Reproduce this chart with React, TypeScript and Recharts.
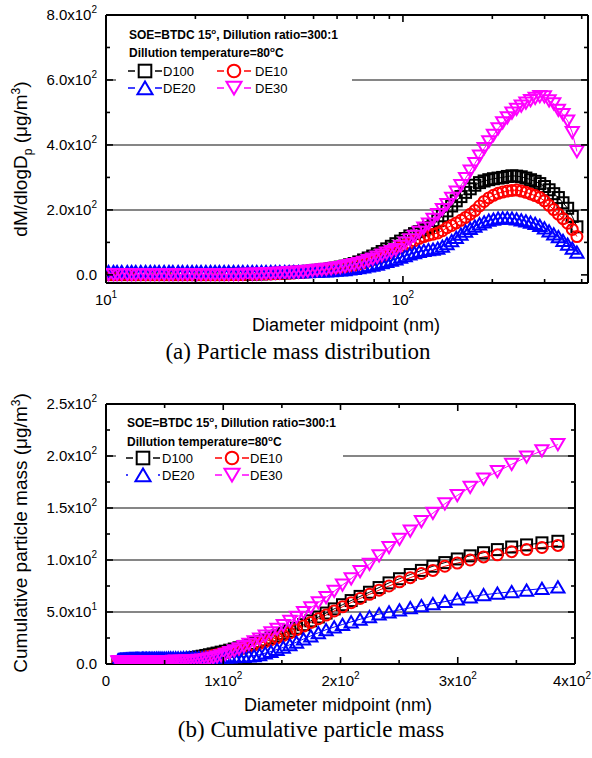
import React from "react";
import { LineChart, Line, XAxis, YAxis, ReferenceLine } from "recharts";

// SMPS channel midpoints (nm)
const diameters = [
  10.2, 10.6, 10.9, 11.3, 11.8, 12.2, 12.6, 13.1, 13.6, 14.1,
  14.6, 15.1, 15.7, 16.3, 16.8, 17.5, 18.1, 18.8, 19.5, 20.2,
  20.9, 21.7, 22.5, 23.3, 24.1, 25.0, 25.9, 26.9, 27.9, 28.9,
  30.0, 31.1, 32.2, 33.4, 34.6, 35.9, 37.2, 38.5, 40.0, 41.4,
  42.9, 44.5, 46.1, 47.8, 49.6, 51.4, 53.3, 55.2, 57.3, 59.4,
  61.5, 63.8, 66.1, 68.5, 71.0, 73.7, 76.4, 79.1, 82.0, 85.1,
  88.2, 91.4, 94.7, 98.2, 101.8, 105.5, 109.4, 113.4, 117.6, 121.9,
  126.3, 131.0, 135.8, 140.7, 145.9, 151.2, 156.8, 162.5, 168.5, 174.7,
  181.1, 187.7, 194.6, 201.7, 209.1, 216.7, 224.7, 232.9, 241.4, 250.3,
  259.5, 269.0, 278.8, 289.0, 299.6, 310.6, 322.0, 333.8, 346.0, 358.7,
  371.8, 385.4,
];

// (a) dM/dlogDp, ug/m3
const massD100 = [
  1, 1, 1, 1, 1, 1, 1, 1, 1, 1,
  1, 1, 1, 1, 1, 1, 1, 1, 1, 1,
  1, 1, 1, 1, 1, 1, 2, 2, 2, 2,
  2, 3, 3, 3, 4, 4, 5, 5, 6, 7,
  8, 9, 10, 11, 12, 14, 15, 17, 19, 21,
  24, 27, 31, 35, 40, 46, 52, 58, 65, 72,
  80, 88, 96, 104, 112, 120, 127, 133, 139, 146,
  153, 167, 182, 197, 212, 228, 241, 254, 265, 276,
  284, 289, 293, 296, 298, 300, 303, 305, 304, 302,
  298, 293, 288, 281, 272, 262, 250, 238, 222, 205,
  180, 148,
];
const massDE10 = [
  1, 1, 1, 1, 1, 1, 1, 1, 1, 1,
  1, 1, 1, 1, 1, 1, 1, 1, 1, 1,
  1, 1, 1, 1, 1, 1, 1, 1, 1, 1,
  2, 2, 2, 3, 3, 3, 4, 4, 5, 5,
  6, 7, 8, 9, 10, 11, 13, 14, 16, 18,
  20, 23, 26, 29, 33, 37, 42, 47, 52, 58,
  64, 70, 77, 84, 91, 98, 105, 112, 118, 122,
  125, 129, 136, 145, 152, 160, 168, 177, 187, 198,
  212, 226, 237, 245, 251, 255, 258, 260, 261, 258,
  254, 249, 244, 238, 228, 214, 201, 187, 173, 159,
  140, 118,
];
const massDE20 = [
  10, 10, 10, 10, 10, 10, 10, 10, 10, 10,
  10, 10, 10, 10, 10, 10, 10, 10, 10, 10,
  10, 10, 10, 10, 10, 10, 10, 10, 10, 10,
  10, 10, 10, 10, 10, 10, 10, 10, 10, 10,
  10, 10, 10, 10, 11, 11, 12, 12, 13, 14,
  15, 16, 18, 20, 22, 24, 27, 30, 33, 37,
  41, 45, 49, 54, 59, 64, 68, 72, 75, 77,
  79, 82, 88, 96, 105, 115, 125, 134, 143, 150,
  157, 163, 168, 171, 174, 175, 175, 174, 172, 169,
  166, 162, 158, 152, 144, 135, 126, 117, 106, 94,
  82, 70,
];
const massDE30 = [
  1, 1, 1, 1, 1, 1, 1, 1, 1, 1,
  1, 1, 1, 1, 1, 1, 1, 1, 1, 1,
  1, 1, 1, 1, 1, 1, 1, 1, 1, 2,
  2, 2, 3, 3, 4, 4, 5, 6, 6, 7,
  8, 9, 10, 11, 13, 14, 16, 17, 19, 21,
  23, 26, 29, 32, 35, 39, 44, 49, 55, 61,
  67, 72, 78, 88, 98, 108, 119, 131, 144, 157,
  171, 186, 201, 217, 236, 255, 275, 297, 320, 343,
  366, 389, 410, 430, 450, 468, 484, 498, 510, 520,
  529, 537, 544, 549, 548, 536, 527, 507, 494, 474,
  438, 380,
];

// (b) cumulative mass, ug/m3
const cumD100 = [
  1.5, 1.5, 1.5, 1.5, 1.5, 1.5, 1.5, 1.5, 1.5, 1.5,
  1.5, 1.5, 1.5, 1.5, 1.5, 1.5, 1.5, 1.5, 1.5, 1.5,
  1.5, 1.5, 1.5, 1.5, 1.5, 1.5, 1.5, 1.5, 1.5, 1.5,
  1.6, 1.6, 1.6, 1.6, 1.7, 1.7, 1.8, 1.8, 1.9, 2,
  2.1, 2.2, 2.3, 2.4, 2.6, 2.7, 2.9, 3.1, 3.3, 3.6,
  3.9, 4.2, 4.5, 4.9, 5.3, 5.8, 6.3, 6.9, 7.5, 8.2,
  8.9, 9.7, 10.5, 11.4, 12.3, 13.3, 14.4, 15.6, 16.9, 18.3,
  19.8, 21.4, 23.1, 25, 27, 29.2, 31.6, 34.4, 37.8, 41.5,
  45.2, 49, 53, 57, 61, 65, 69, 73.5, 78, 82,
  86, 90, 94, 97.5, 101, 104, 107, 110, 112.5, 114.5,
  116.5, 118,
];
const cumDE10 = [
  1.5, 1.5, 1.5, 1.5, 1.5, 1.5, 1.5, 1.5, 1.5, 1.5,
  1.5, 1.5, 1.5, 1.5, 1.5, 1.5, 1.5, 1.5, 1.5, 1.5,
  1.5, 1.5, 1.5, 1.5, 1.5, 1.5, 1.5, 1.5, 1.5, 1.5,
  1.5, 1.5, 1.5, 1.5, 1.6, 1.6, 1.7, 1.7, 1.8, 1.9,
  2, 2.1, 2.2, 2.3, 2.4, 2.5, 2.6, 2.8, 3, 3.2,
  3.4, 3.6, 3.9, 4.2, 4.5, 4.9, 5.3, 5.8, 6.3, 6.9,
  7.5, 8.2, 9, 9.8, 10.7, 11.7, 12.8, 14, 15.3, 16.7,
  18.2, 19.8, 21.5, 23.3, 25.3, 27.5, 30, 33, 36.5, 40,
  43.5, 47, 51, 55, 59, 63, 67, 71, 75, 79,
  83, 87, 90, 94, 97, 100, 103, 105, 108, 110,
  112, 114,
];
const cumDE20 = [
  3.5, 3.6, 3.7, 3.8, 3.9, 4, 4, 4.1, 4.1, 4.2,
  4.2, 4.3, 4.3, 4.4, 4.4, 4.5, 4.5, 4.6, 4.6, 4.7,
  4.7, 4.8, 4.8, 4.9, 4.9, 5, 5, 5, 5.1, 5.1,
  5.1, 5.2, 5.2, 5.2, 5.3, 5.3, 5.3, 5.4, 5.4, 5.4,
  5.5, 5.5, 5.5, 5.6, 5.6, 5.6, 5.7, 5.7, 5.7, 5.8,
  5.8, 5.8, 5.9, 5.9, 6, 6, 6, 6.1, 6.1, 6.2,
  6.3, 6.4, 6.5, 6.6, 6.7, 6.8, 6.9, 7.1, 7.3, 7.6,
  8, 9, 10.5, 12, 14, 16, 18.5, 21, 24, 27,
  30, 33, 35.5, 38, 40.5, 43, 45.5, 48, 50, 52,
  54, 56, 58, 60, 62.5, 64.5, 66.5, 68, 69.5, 71,
  72.5, 74,
];
const cumDE30 = [
  2, 2, 2, 2, 2, 2, 2, 2, 2, 2,
  2, 2, 2, 2, 2, 2, 2, 2, 2, 2,
  2, 2, 2, 2, 2, 2, 2, 2, 2, 2,
  2, 2, 2, 2, 2, 2, 2, 2, 2, 2,
  2, 2, 2, 2, 2, 2, 2.2, 2.4, 2.6, 2.8,
  2.5, 2.6, 2.7, 2.8, 2.9, 3, 3.2, 3.5, 3.9, 4.4,
  5, 5.8, 6.8, 8, 9.4, 11, 12.8, 14.7, 16.8, 19,
  21.5, 24, 27, 30, 33.5, 37, 41, 45, 49.5, 54,
  59, 64, 70, 76, 82, 89, 96, 104, 112, 120,
  128, 137, 145, 154, 162, 170, 178, 185, 192, 199,
  205, 211,
];

const logTicks = [10, 20, 30, 40, 50, 60, 70, 80, 90, 100, 200, 300, 400];
const massTicks = [0, 100, 200, 300, 400, 500, 600, 700, 800];
const massGrid = [200, 400, 600];
const cumXTicks = [0, 50, 100, 150, 200, 250, 300, 350, 400];
const cumYTicks = [0, 25, 50, 75, 100, 125, 150, 175, 200, 225, 250];
const cumGrid = [50, 100, 150, 200];

const massData = diameters.map((d, i) => ({
  d,
  D100: massD100[i],
  DE10: massDE10[i],
  DE20: massDE20[i],
  DE30: massDE30[i],
}));
const cumData = diameters.map((d, i) => ({
  d,
  D100: cumD100[i],
  DE10: cumDE10[i],
  DE20: cumDE20[i],
  DE30: cumDE30[i],
}));

const SANS = "'Liberation Sans', Arial, sans-serif";
const SERIF = "'Liberation Serif', 'Times New Roman', serif";
const GRID = "#5e5e5e";

type Marker = "square" | "circle" | "up" | "down";

const series: { key: string; color: string; marker: Marker }[] = [
  { key: "D100", color: "#000000", marker: "square" },
  { key: "DE10", color: "#ff0000", marker: "circle" },
  { key: "DE20", color: "#0000ff", marker: "up" },
  { key: "DE30", color: "#ff00ff", marker: "down" },
];

function drawMarker(kind: Marker, cx: number, cy: number, color: string, s: number, key?: string) {
  const common = { fill: "none", stroke: color, strokeWidth: 2 };
  if (kind === "square") {
    return <rect key={key} x={cx - s} y={cy - s} width={2 * s} height={2 * s} {...common} />;
  }
  if (kind === "circle") {
    return <circle key={key} cx={cx} cy={cy} r={s} {...common} />;
  }
  const w = s * 1.2;
  const pts =
    kind === "up"
      ? `${cx},${cy - s * 1.05} ${cx - w},${cy + s} ${cx + w},${cy + s}`
      : `${cx - w},${cy - s} ${cx + w},${cy - s} ${cx},${cy + s * 1.05}`;
  return <polygon key={key} points={pts} {...common} strokeLinejoin="miter" />;
}

type Side = "left" | "right" | "top" | "bottom";

function makeTick(side: Side, isMajor: (v: number) => boolean, label?: (v: number) => [string, string] | null) {
  return (props: any) => {
    const { x, y, payload } = props;
    const v = payload.value;
    const len = isMajor(v) ? 7 : 4;
    let line;
    if (side === "left") line = <line x1={x} y1={y} x2={x + len} y2={y} />;
    else if (side === "right") line = <line x1={x} y1={y} x2={x - len} y2={y} />;
    else if (side === "top") line = <line x1={x} y1={y} x2={x} y2={y + len} />;
    else line = <line x1={x} y1={y} x2={x} y2={y - len} />;
    const lab = label ? label(v) : null;
    let text = null;
    if (lab) {
      // the label at the far right edge is pulled in so it is not cut off
      const atEdge = side === "bottom" && x > 560;
      const tx = side === "left" ? x - 9 : atEdge ? 591 : x;
      const ty = side === "left" ? y + 5 : y + 22;
      const anchor = side === "left" || atEdge ? "end" : "middle";
      text = (
        <text x={tx} y={ty} textAnchor={anchor} fontSize={15} fontFamily={SANS} fill="#000" stroke="none">
          {lab[0]}
          {lab[1] && (
            <tspan dy={-7} fontSize={10}>
              {lab[1]}
            </tspan>
          )}
        </text>
      );
    }
    return (
      <g stroke="#000" strokeWidth={1.6}>
        {line}
        {text}
      </g>
    );
  };
}

const massYLabel = (v: number): [string, string] | null =>
  v % 200 !== 0 ? null : v === 0 ? ["0.0", ""] : [(v / 100).toFixed(1) + "x10", "2"];
const logXLabel = (v: number): [string, string] | null =>
  v === 10 ? ["10", "1"] : v === 100 ? ["10", "2"] : null;
const cumXLabel = (v: number): [string, string] | null =>
  v % 100 !== 0 ? null : v === 0 ? ["0", ""] : [String(v / 100) + "x10", "2"];
const cumYLabel = (v: number): [string, string] | null =>
  v % 50 !== 0 ? null : v === 0 ? ["0.0", ""] : v === 50 ? ["5.0x10", "1"] : [(v / 100).toFixed(1) + "x10", "2"];

const axisLine = { stroke: "#000", strokeWidth: 2 };

function renderSeries(size: number) {
  return series.map((s) => (
    <Line
      key={s.key}
      dataKey={s.key}
      type="linear"
      stroke={s.color}
      strokeWidth={1}
      isAnimationActive={false}
      activeDot={false}
      dot={(p: any) =>
        p.cx == null || p.cy == null ? (
          <g key={`${s.key}-${p.index}`} />
        ) : (
          drawMarker(s.marker, p.cx, p.cy, s.color, size, `${s.key}-${p.index}`)
        )
      }
    />
  ));
}

function LegendBlock({ x, rows, cols }: { x: number; rows: number[]; cols: number[][] }) {
  // rows: baselines of the 4 text lines; cols: [symbol centre, text x, dotted flag] per column
  return (
    <g fontFamily={SANS} fill="#000">
      <text x={x} y={rows[0]} fontSize={12} fontWeight="bold">
        SOE=BTDC 15
        <tspan dy={-5} fontSize={8}>o</tspan>
        <tspan dy={5}>, Dillution ratio=300:1</tspan>
      </text>
      <text x={x} y={rows[1]} fontSize={12} fontWeight="bold">
        Dillution temperature=80
        <tspan dy={-5} fontSize={8}>o</tspan>
        <tspan dy={5}>C</tspan>
      </text>
      {series.map((s, i) => {
        const row = i < 2 ? 2 : 3;
        const col = i === 0 || i === 2 ? 0 : 1;
        const cx = cols[col][0];
        const tx = cols[col][1];
        const cy = rows[row] - 5;
        const dotted = s.key === "DE20" && cols[col][2] === 1;
        return (
          <g key={s.key}>
            <g stroke={s.color} strokeWidth={1.5}>
              {dotted ? (
                <>
                  <line x1={cx - 17} y1={cy} x2={cx - 15} y2={cy} />
                  <line x1={cx + 15} y1={cy} x2={cx + 17} y2={cy} />
                </>
              ) : (
                <>
                  <line x1={cx - 17} y1={cy} x2={cx - 10} y2={cy} />
                  <line x1={cx + 10} y1={cy} x2={cx + 17} y2={cy} />
                </>
              )}
            </g>
            {drawMarker(s.marker, cx, cy, s.color, 6.3)}
            <text x={tx} y={rows[row]} fontSize={13}>
              {s.key}
            </text>
          </g>
        );
      })}
    </g>
  );
}

export default function App() {
  return (
    <div style={{ position: "absolute", left: 0, top: 0, width: 592, height: 758, background: "#fff" }}>
      <div style={{ position: "absolute", left: 0, top: 0 }}>
        <LineChart width={592} height={330} data={massData} margin={{ top: 14, right: 0, bottom: 0, left: 0 }}>
          <XAxis
            dataKey="d"
            type="number"
            scale="log"
            domain={[10, 420]}
            allowDataOverflow
            ticks={logTicks}
            interval={0}
            height={47}
            tickSize={0}
            tickMargin={0}
            tickLine={false}
            axisLine={axisLine}
            tick={makeTick("bottom", (v) => v === 10 || v === 100, logXLabel)}
          />
          <XAxis
            xAxisId="top"
            orientation="top"
            dataKey="d"
            type="number"
            scale="log"
            domain={[10, 420]}
            allowDataOverflow
            ticks={logTicks}
            interval={0}
            height={1}
            tickSize={0}
            tickMargin={0}
            tickLine={false}
            axisLine={axisLine}
            tick={makeTick("top", (v) => v === 10 || v === 100)}
          />
          <YAxis
            type="number"
            domain={[-25, 800]}
            allowDataOverflow
            ticks={massTicks}
            interval={0}
            width={106}
            tickSize={0}
            tickMargin={0}
            tickLine={false}
            axisLine={axisLine}
            tick={makeTick("left", (v) => v % 200 === 0, massYLabel)}
          />
          <YAxis
            yAxisId="right"
            orientation="right"
            type="number"
            domain={[-25, 800]}
            allowDataOverflow
            ticks={massTicks}
            interval={0}
            width={4}
            tickSize={0}
            tickMargin={0}
            tickLine={false}
            axisLine={axisLine}
            tick={makeTick("right", (v) => v % 200 === 0)}
          />
          {massGrid.map((g) => (
            <ReferenceLine key={g} y={g} stroke={GRID} strokeWidth={1.5} />
          ))}
          {renderSeries(5.5)}
        </LineChart>
      </div>

      <div style={{ position: "absolute", left: 0, top: 380 }}>
        <LineChart width={592} height={320} data={cumData} margin={{ top: 23, right: 13, bottom: 0, left: 0 }}>
          <XAxis
            dataKey="d"
            type="number"
            domain={[0, 400]}
            allowDataOverflow
            ticks={cumXTicks}
            interval={0}
            height={36}
            tickSize={0}
            tickMargin={0}
            tickLine={false}
            axisLine={axisLine}
            tick={makeTick("bottom", (v) => v % 100 === 0, cumXLabel)}
          />
          <XAxis
            xAxisId="top"
            orientation="top"
            dataKey="d"
            type="number"
            domain={[0, 400]}
            allowDataOverflow
            ticks={cumXTicks}
            interval={0}
            height={1}
            tickSize={0}
            tickMargin={0}
            tickLine={false}
            axisLine={axisLine}
            tick={makeTick("top", (v) => v % 100 === 0)}
          />
          <YAxis
            type="number"
            domain={[0, 250]}
            allowDataOverflow
            ticks={cumYTicks}
            interval={0}
            width={106}
            tickSize={0}
            tickMargin={0}
            tickLine={false}
            axisLine={axisLine}
            tick={makeTick("left", (v) => v % 50 === 0, cumYLabel)}
          />
          <YAxis
            yAxisId="right"
            orientation="right"
            type="number"
            domain={[0, 250]}
            allowDataOverflow
            ticks={cumYTicks}
            interval={0}
            width={4}
            tickSize={0}
            tickMargin={0}
            tickLine={false}
            axisLine={axisLine}
            tick={makeTick("right", (v) => v % 50 === 0)}
          />
          {cumGrid.map((g) => (
            <ReferenceLine key={g} y={g} stroke={GRID} strokeWidth={1.5} />
          ))}
          {renderSeries(5.5)}
        </LineChart>
      </div>

      <svg
        width={592}
        height={758}
        style={{ position: "absolute", left: 0, top: 0, pointerEvents: "none" }}
      >
        {/* legend boxes hide the grid lines behind the text */}
        <rect x={116} y={22} width={236} height={76} fill="#fff" />
        <rect x={116} y={410} width={227} height={75} fill="#fff" />
        <LegendBlock x={129} rows={[39, 57, 76, 93]} cols={[[145, 163, 0], [234, 255, 0]]} />
        <LegendBlock x={127} rows={[427, 446, 463, 480]} cols={[[143, 162, 1], [232, 250, 1]]} />

        <g fontFamily={SANS} fill="#000">
          <text transform="translate(27,159) rotate(-90)" textAnchor="middle" fontSize={19}>
            dM/dlogD
            <tspan dy={5} fontSize={12}>p</tspan>
            <tspan dy={-5}> (μg/m</tspan>
            <tspan dy={-7} fontSize={12}>3</tspan>
            <tspan dy={7}>)</tspan>
          </text>
          <text x={346} y={331} textAnchor="middle" fontSize={18}>
            Diameter midpoint (nm)
          </text>
          <text transform="translate(27,533) rotate(-90)" textAnchor="middle" fontSize={19}>
            Cumulative particle mass (μg/m
            <tspan dy={-7} fontSize={12}>3</tspan>
            <tspan dy={7}>)</tspan>
          </text>
          <text x={338} y={711} textAnchor="middle" fontSize={18}>
            Diameter midpoint (nm)
          </text>
        </g>
        <g fontFamily={SERIF} fill="#000" fontSize={23}>
          <text x={298} y={359} textAnchor="middle">
            (a) Particle mass distribution
          </text>
          <text x={311} y={737} textAnchor="middle">
            (b) Cumulative particle mass
          </text>
        </g>
      </svg>
    </div>
  );
}
